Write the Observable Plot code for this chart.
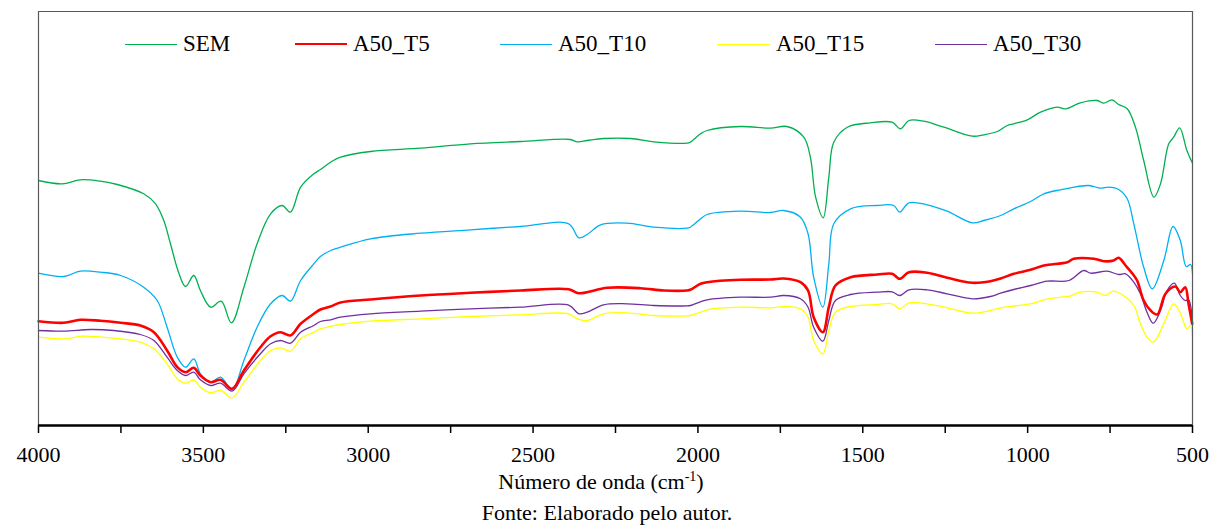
<!DOCTYPE html>
<html>
<head>
<meta charset="utf-8">
<script src="https://cdn.jsdelivr.net/npm/d3@7"></script>
<script src="https://cdn.jsdelivr.net/npm/@observablehq/plot@0.6"></script>
<style>
  html, body { margin: 0; padding: 0; background: #fff; }
  body { width: 1214px; height: 528px; position: relative; overflow: hidden; font-family: "Liberation Serif", "LiberationSerif", "Tinos", "Times New Roman", Times, "DejaVu Serif", serif; }
  #chart { position: absolute; left: 0; top: 0; }
  #legend { position: absolute; left: 125px; top: 31px; display: flex; align-items: center; font-size: 23px; color: #000; white-space: nowrap; }
  .item { display: flex; align-items: center; gap: 6px; }
  .sw { width: 52px; height: 0; border-top-style: solid; }
  #xtitle { position: absolute; left: 0; width: 1202px; top: 469px; text-align: center; font-size: 22px; }
  #xtitle sup { font-size: 14px; vertical-align: 0; position: relative; top: -8px; }
  #caption { position: absolute; left: 0; width: 1214px; top: 500px; text-align: center; font-size: 22px; }
  svg text { font-family: "Liberation Serif", "LiberationSerif", "Tinos", "Times New Roman", Times, "DejaVu Serif", serif; }
</style>
</head>
<body>
<div id="chart"></div>
<div id="legend"></div>
<div id="xtitle">Número de onda (cm<sup>-1</sup>)</div>
<div id="caption">Fonte: Elaborado pelo autor.</div>
<script>
// Wavenumber (cm-1) vs transmittance (arbitrary units)
const seriesNames = ["SEM", "A50_T5", "A50_T10", "A50_T15", "A50_T30"];
const seriesColors = ["#00B050", "#FF0000", "#00B0F0", "#FFFF00", "#7030A0"];
const seriesWidths = [1.3, 2.6, 1.3, 1.3, 1.3];
const xTicks = [4000, 3750, 3500, 3250, 3000, 2750, 2500, 2250, 2000, 1750, 1500, 1250, 1000, 750, 500];
const xTickLabels = [4000, 3500, 3000, 2500, 2000, 1500, 1000, 500];

const sem = [[4000,245],[3928,241.7],[3873,245.7],[3812,244.3],[3761,241],[3681,231.7],[3645,221.7],[3620,205],[3600,182],[3574,152],[3554,139],[3529,150],[3509,135],[3478,118.3],[3446,124.3],[3415,102.7],[3377,138.3],[3337,181.7],[3296,211.7],[3261,220],[3236,213.3],[3205,238.3],[3165,251.7],[3145,256],[3114,263.3],[3084,268.3],[2993,274],[2841,277.3],[2690,281.7],[2538,284],[2387,286],[2366,283.7],[2336,285],[2286,287],[2205,287],[2134,283.7],[2033,282.3],[2023,283.3],[1992,291.7],[1972,295],[1871,299],[1780,297.3],[1730,299],[1679,288.3],[1659,268.3],[1643,228.3],[1620,207.7],[1603,248.3],[1588,283.3],[1547,298.3],[1477,302.7],[1411,303.3],[1386,296.7],[1360,305],[1315,304.3],[1254,298.3],[1168,289.3],[1133,290.7],[1092,294],[1062,300],[1042,301.7],[1001,305.7],[961,313.3],[910,318.3],[885,316.7],[840,322.7],[789,325],[769,322.3],[744,325.7],[724,321],[698,316.7],[673,298.3],[648,265],[617,228.3],[597,241.7],[572,281.7],[557,288.3],[539,297.7],[517,275],[500,262.3]];

const a50t10 = [[4000,152.3],[3923,149],[3873,154.3],[3812,153.3],[3751,150],[3681,138.3],[3640,125],[3610,98.3],[3579,68.3],[3554,58.3],[3529,66.7],[3509,51.7],[3478,43.3],[3448,48.3],[3413,35.7],[3377,65],[3337,98.3],[3296,121.7],[3261,130],[3236,124.3],[3205,145],[3165,161.7],[3145,169],[3114,175],[3084,178.3],[2993,186.7],[2841,192.3],[2690,195.7],[2538,199],[2392,201.7],[2361,187.7],[2336,191],[2295,200.7],[2215,202.3],[2134,198.3],[2033,197.3],[2023,198.3],[1992,206.7],[1972,211],[1871,214.3],[1780,213],[1740,215],[1689,208.3],[1666,191.7],[1649,148.3],[1621,118.3],[1603,161.7],[1588,201.7],[1537,216.7],[1456,220],[1406,220],[1388,213.3],[1360,222.7],[1305,220.7],[1244,214.3],[1168,202.7],[1133,205],[1082,210],[1042,216.7],[991,224],[951,231.7],[900,235.7],[815,240],[779,237.3],[754,238.3],[724,236],[698,226.7],[678,201.7],[648,158.3],[622,136.7],[587,165],[559,199],[537,185],[519,159],[506,161],[500,152.3]];

const a50t5 = [[4000,104.3],[3923,102.7],[3873,105.7],[3812,104.7],[3751,102.7],[3691,100],[3650,93.3],[3610,75],[3579,58.3],[3554,53.3],[3529,57.7],[3509,50],[3478,43.3],[3448,45.7],[3413,36.7],[3377,55],[3327,78.3],[3296,89.3],[3266,93.3],[3236,90],[3205,101.7],[3165,111.7],[3145,116],[3114,119],[3084,123],[2993,126],[2841,130],[2690,132.7],[2538,135],[2392,136.3],[2361,132.3],[2275,137.7],[2174,137.3],[2103,135],[2033,135],[2023,135.7],[1992,141.7],[1972,143.3],[1871,145.7],[1780,146],[1740,147],[1689,143.3],[1666,135],[1649,108.3],[1621,93.3],[1603,118.3],[1583,140],[1537,148.3],[1456,151],[1411,151.7],[1388,146.7],[1360,153.3],[1305,152.7],[1244,147.7],[1168,142.7],[1113,144.3],[1082,147],[1042,151.7],[991,155.7],[951,160],[880,163.3],[860,166.7],[799,166.7],[769,164.3],[739,165],[724,167.7],[703,160],[683,152.3],[668,145],[648,125],[627,115],[607,111],[582,131.7],[552,139],[537,133.3],[522,138.3],[512,121.7],[501,101.7]];

const a50t15 = [[4000,88.3],[3923,86.7],[3867,89.3],[3772,87.3],[3691,83.3],[3650,76.7],[3610,61.7],[3579,46.7],[3554,42.3],[3529,45.7],[3509,38.3],[3478,32.7],[3448,35],[3413,27.7],[3377,43.3],[3327,65],[3296,75],[3266,77.7],[3236,74.3],[3205,86.7],[3165,93.3],[3145,96.7],[3114,99],[3084,101],[2993,104.3],[2841,106.7],[2690,109],[2538,110.7],[2392,111.7],[2366,106.7],[2336,105],[2286,111.7],[2215,112.7],[2134,110],[2033,109.7],[2023,110],[1992,113.3],[1972,115.7],[1871,118.3],[1780,117.7],[1730,119],[1689,116.7],[1666,108.3],[1649,85],[1621,71.7],[1603,95],[1583,113.3],[1537,119],[1456,121],[1411,121.7],[1388,116.7],[1360,122.7],[1305,121.7],[1244,117.7],[1168,112.3],[1113,115],[1082,117.5],[1042,119.5],[991,121.7],[951,125.7],[900,128.3],[875,129],[840,133.3],[789,133.3],[764,130],[741,134.3],[714,131],[678,120],[658,101.7],[638,88.3],[619,83.3],[587,101.7],[557,121.7],[537,112.3],[517,96.7],[506,100],[500,88.3]];

const a50t30 = [[4000,95],[3923,94.3],[3842,96],[3772,95],[3691,91],[3650,85],[3610,68.3],[3579,55],[3554,50],[3529,53.3],[3509,45.7],[3478,40],[3448,42.3],[3413,34.3],[3377,51.7],[3327,71.7],[3296,81.7],[3266,85],[3236,82.3],[3205,93.3],[3165,100],[3145,104],[3114,105.7],[3084,108.3],[2993,111.7],[2841,114.3],[2690,116.7],[2538,118.3],[2392,120.3],[2361,111.7],[2336,113.3],[2286,120.7],[2215,121.7],[2134,120],[2033,119.7],[2023,120],[1992,123.7],[1972,125.7],[1871,128.3],[1780,128.3],[1740,130],[1689,126.7],[1666,118.3],[1649,98.3],[1621,84.3],[1603,105],[1583,125],[1537,131],[1456,133.3],[1411,133.7],[1388,130],[1360,135.7],[1305,135.7],[1244,131.7],[1168,126.7],[1113,129],[1082,132.3],[1042,136],[991,140],[941,144.3],[875,145],[830,155],[809,152.3],[759,154.3],[724,151],[703,151.7],[678,143.3],[658,131.7],[638,113.3],[619,102.3],[597,115],[577,135],[555,142.3],[537,130],[522,125],[512,125.7],[500,103.3]];

const seriesData = [sem, a50t5, a50t10, a50t15, a50t30];
const rows = seriesData.flatMap((arr, i) => arr.map(([wn, t]) => ({series: seriesNames[i], wn, t})));

// draw order: SEM, T10, T15, T30, T5 (red on top)
const drawOrder = ["SEM", "A50_T10", "A50_T15", "A50_T30", "A50_T5"];
const serif = "'Liberation Serif', 'LiberationSerif', 'Tinos', 'Times New Roman', Times, 'DejaVu Serif', serif";
const legendSlotWidths = [170, 205, 218, 217, 0];

const chart = Plot.plot({
  width: 1214,
  height: 470,
  marginLeft: 38,
  marginRight: 22,
  marginTop: 11,
  marginBottom: 45,
  style: {fontFamily: serif, fontSize: "22px", background: "#fff", color: "#000"},
  x: {domain: [4000, 500], label: null},
  y: {domain: [0, 414], axis: null},
  marks: [
    ...drawOrder.map(name => {
      const i = seriesNames.indexOf(name);
      return Plot.line(rows.filter(d => d.series === name), {
        x: "wn", y: "t", stroke: seriesColors[i], strokeWidth: seriesWidths[i], curve: "catmull-rom"
      });
    }),
    Plot.ruleX([4000, 500], {stroke: "#595959", strokeWidth: 1.2}),
    Plot.ruleY([414], {stroke: "#595959", strokeWidth: 1.2}),
    Plot.axisX({
      ticks: xTicks,
      tickSize: 8,
      tickPadding: 13,
      strokeWidth: 1.5,
      tickFormat: d => xTickLabels.includes(d) ? String(d) : "",
      fontSize: 22,
      fontFamily: serif
    }),
    Plot.ruleY([0], {stroke: "#000", strokeWidth: 2.5})
  ]
});
document.getElementById("chart").appendChild(chart);

const legend = document.getElementById("legend");
seriesNames.forEach((name, i) => {
  const item = document.createElement("div");
  item.className = "item";
  if (legendSlotWidths[i]) item.style.width = legendSlotWidths[i] + "px";
  const sw = document.createElement("div");
  sw.className = "sw";
  sw.style.borderTopColor = seriesColors[i];
  sw.style.borderTopWidth = (i === 1 ? 2.6 : 1.3) + "px";
  const label = document.createElement("span");
  label.textContent = name;
  item.appendChild(sw);
  item.appendChild(label);
  legend.appendChild(item);
});
</script>
</body>
</html>
